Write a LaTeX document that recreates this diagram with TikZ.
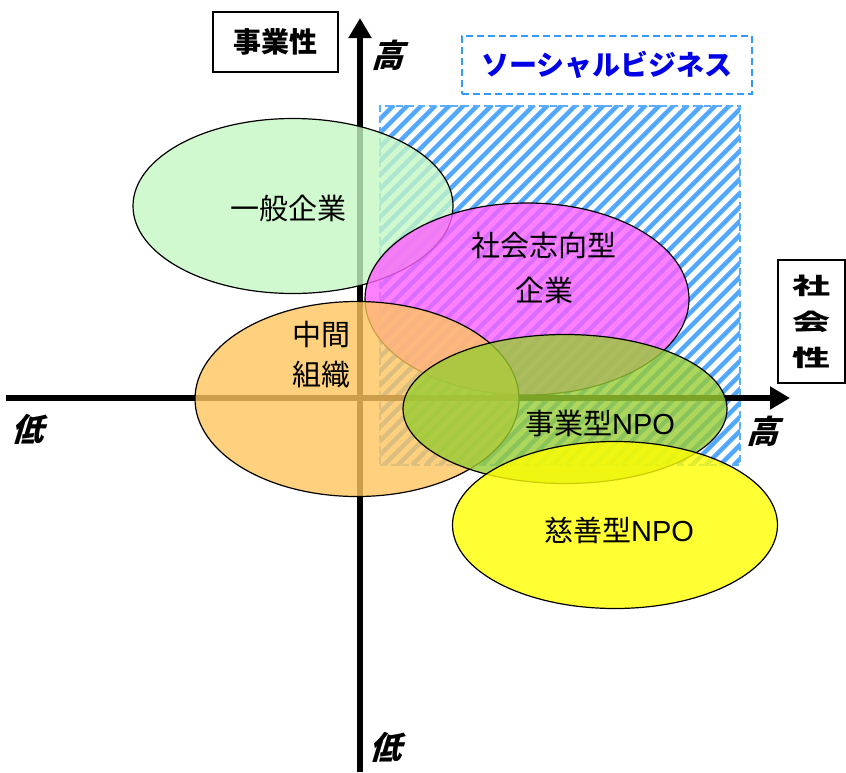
\documentclass[tikz,border=0pt]{standalone}
\usepackage{fontspec}
\newfontfamily\jp{Noto Sans CJK JP}
\newfontfamily\jpslant[FakeSlant=0.3]{Noto Sans CJK JP}
\newfontfamily\lat{Liberation Sans}
\usepackage{xcolor}
\usetikzlibrary{arrows.meta, shapes.geometric, positioning}
\definecolor{hatchblue}{RGB}{51, 153, 255}
\definecolor{sbblue}{RGB}{0, 0, 230}
\definecolor{ippangreen}{RGB}{196, 247, 196}
\definecolor{shakaipink}{RGB}{255, 96, 255}
\definecolor{chukanorange}{RGB}{255, 197, 94}
\definecolor{jigyogreen}{RGB}{153, 204, 51}
\definecolor{jizenyellow}{RGB}{255, 255, 0}
\tikzset{
    axisline/.style={
        line width=6pt, -{Triangle[length=20pt, width=22pt]}
    },
    bubble/.style={
        ellipse, draw=black, line width=1.2pt, fill opacity=0.8, inner sep=0pt
    },
    bubbletext/.style={
        font=\jp\fontsize{29}{40}\selectfont, align=center, inner sep=0pt
    },
    levellabel/.style={
        font=\jpslant\bfseries\fontsize{32}{34}\selectfont, inner sep=0pt
    },
    hatchline/.style={
        draw=hatchblue!85, line width=4.5pt
    }
}

\begin{document}
\begin{tikzpicture}[
        x=1pt, y=-1pt,
        % --- STYLE ---
        titlebox/.style={draw=black, line width=1.5pt, inner sep=0pt, font=\jp\bfseries\fontsize{28}{30}\selectfont},
        sbbox/.style={draw=hatchblue, line width=1.8pt, dash pattern=on 7pt off 4pt, inner sep=0pt, text=sbblue, font=\jp\bfseries\fontsize{28}{30}\selectfont},
        hatchbox/.style={draw=hatchblue!80, line width=1.8pt, dash pattern=on 7pt off 4pt, inner sep=0pt}
    ]
        \useasboundingbox (0,0) rectangle (846,772);

        % ==========================================
        % VÙNG SOCIAL BUSINESS
        % ==========================================
        \node[minimum width=360pt, minimum height=359pt, inner sep=0pt] (sbarea) at (560,285.5) {};
        \begin{scope}
            \clip (sbarea.south west) rectangle (sbarea.north east);
            \foreach \k in {20,34,...,750}
                \draw[hatchline] (\k,465) -- ++(360,-360);
        \end{scope}
        \node[hatchbox, minimum width=360pt, minimum height=359pt] at (sbarea) {};
        \node[sbbox, minimum width=290pt, minimum height=58pt] (sblabel) at (607,65) {ソーシャルビジネス};

        % ==========================================
        % TRỤC
        % ==========================================
        \coordinate (xstart) at (6,398);
        \coordinate (xend) at (790,398);
        \coordinate (ystart) at (360,772);
        \coordinate (yend) at (360,18);
        \draw[axisline] (xstart) -- (xend);
        \draw[axisline] (ystart) -- (yend);

        \node[titlebox, minimum width=125pt, minimum height=60pt] (jigyosei) at (275.5,42) {事業性};
        \node[titlebox, minimum width=67pt, minimum height=123pt] (shakaibox) at (811.5,321.5) {};
        \node[font=\jp\bfseries\fontsize{38}{60}\selectfont, align=center, yscale=0.6, transform shape, inner sep=0pt] (shakaisei) at (shakaibox) {社\\会\\性};

        \node[levellabel] (yhigh) at (387,55) {高};
        \node[levellabel] (ylow) at (385,747) {低};
        \node[levellabel] (xhigh) at (762,431) {高};
        \node[levellabel] (xlow) at (27,429) {低};

        % ==========================================
        % ELLIPSES
        % ==========================================
        \node[bubble, fill=ippangreen, minimum width=320pt, minimum height=175pt] (ippan) at (293,206) {};
        \node[bubble, fill=shakaipink, minimum width=324pt, minimum height=192pt] (shakai) at (527,299) {};
        \node[bubble, fill=chukanorange, minimum width=324pt, minimum height=195pt] (chukan) at (357,399) {};
        \node[bubble, fill=jigyogreen, minimum width=324pt, minimum height=149pt] (jigyo) at (565,409) {};
        \node[bubble, fill=jizenyellow, minimum width=325pt, minimum height=167pt] (jizen) at (615,525) {};

        % nhãn
        \node[bubbletext] (ippanlbl) at (288,208) {一般企業};
        \node[bubbletext, font=\jp\fontsize{29}{45}\selectfont] (shakailbl) at (544,268) {社会志向型\\企業};
        \node[bubbletext] (chukanlbl) at (321,355) {中間\\組織};
        \node[bubbletext] (jigyolbl) at (600,423) {事業型{\lat NPO}};
        \node[bubbletext] (jizenlbl) at (619,530) {慈善型{\lat NPO}};

    \end{tikzpicture}
\end{document}
